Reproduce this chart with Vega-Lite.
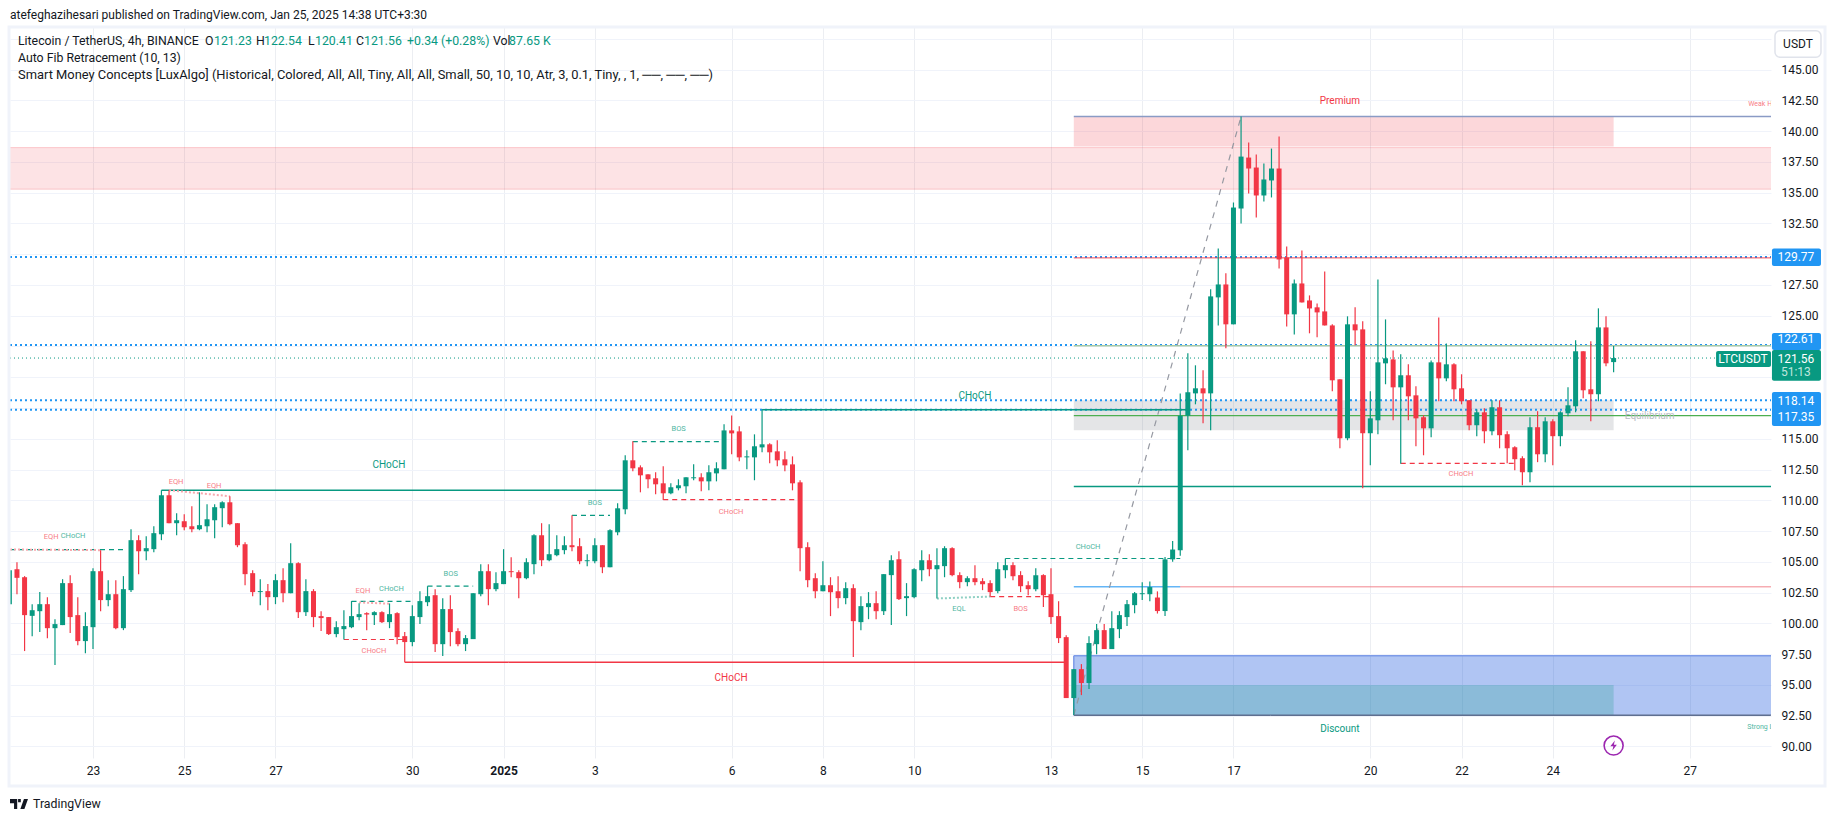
{"$schema":"https://vega.github.io/schema/vega-lite/v6.json","width":1761,"height":731,"autosize":{"type":"none"},"padding":{"left":10,"top":27,"right":64,"bottom":63},"background":"#ffffff","config":{"view":{"stroke":null},"font":"Roboto","axis":{"labelFont":"Roboto"}},
"datasets":{
"candles":[
{"t":"2024-12-21T04:00Z","o":101.56,"h":104.32,"l":101.56,"c":104.32},{"t":"2024-12-21T08:00Z","o":104.40,"h":104.97,"l":102.37,"c":103.70},{"t":"2024-12-21T12:00Z","o":103.75,"h":103.84,"l":97.75,"c":100.67},{"t":"2024-12-21T16:00Z","o":100.61,"h":101.56,"l":98.96,"c":101.07},{"t":"2024-12-21T20:00Z","o":100.99,"h":102.54,"l":99.29,"c":101.56},
{"t":"2024-12-22T00:00Z","o":101.56,"h":102.13,"l":98.80,"c":99.61},{"t":"2024-12-22T04:00Z","o":99.61,"h":100.34,"l":96.61,"c":99.94},{"t":"2024-12-22T08:00Z","o":99.86,"h":103.59,"l":99.86,"c":103.27},{"t":"2024-12-22T12:00Z","o":103.27,"h":103.92,"l":99.21,"c":100.51},{"t":"2024-12-22T16:00Z","o":100.67,"h":102.13,"l":98.23,"c":98.56},{"t":"2024-12-22T20:00Z","o":98.56,"h":100.91,"l":97.58,"c":99.78},
{"t":"2024-12-23T00:00Z","o":99.69,"h":104.48,"l":97.91,"c":104.24},{"t":"2024-12-23T04:00Z","o":104.24,"h":105.95,"l":100.99,"c":101.89},{"t":"2024-12-23T08:00Z","o":101.89,"h":103.51,"l":101.40,"c":102.37},{"t":"2024-12-23T12:00Z","o":102.37,"h":103.51,"l":99.53,"c":99.61},{"t":"2024-12-23T16:00Z","o":99.61,"h":103.84,"l":99.45,"c":102.78},{"t":"2024-12-23T20:00Z","o":102.70,"h":107.65,"l":102.54,"c":106.76},
{"t":"2024-12-24T00:00Z","o":106.76,"h":107.16,"l":104.00,"c":105.86},{"t":"2024-12-24T04:00Z","o":105.86,"h":107.08,"l":105.13,"c":106.11},{"t":"2024-12-24T08:00Z","o":106.03,"h":107.89,"l":105.78,"c":107.33},{"t":"2024-12-24T12:00Z","o":107.24,"h":110.82,"l":106.76,"c":110.41},{"t":"2024-12-24T16:00Z","o":110.41,"h":110.82,"l":108.14,"c":108.14},{"t":"2024-12-24T20:00Z","o":108.14,"h":108.95,"l":107.16,"c":108.38},
{"t":"2024-12-25T00:00Z","o":108.30,"h":108.87,"l":107.57,"c":107.81},{"t":"2024-12-25T04:00Z","o":107.89,"h":109.52,"l":107.41,"c":107.65},{"t":"2024-12-25T08:00Z","o":107.65,"h":110.65,"l":107.57,"c":107.98},{"t":"2024-12-25T12:00Z","o":107.89,"h":109.68,"l":107.41,"c":108.46},{"t":"2024-12-25T16:00Z","o":108.38,"h":109.68,"l":106.92,"c":109.44},{"t":"2024-12-25T20:00Z","o":109.36,"h":109.92,"l":107.81,"c":109.84},
{"t":"2024-12-26T00:00Z","o":109.84,"h":110.33,"l":107.98,"c":108.06},{"t":"2024-12-26T04:00Z","o":108.14,"h":108.14,"l":106.19,"c":106.35},{"t":"2024-12-26T08:00Z","o":106.43,"h":106.60,"l":103.10,"c":104.00},{"t":"2024-12-26T12:00Z","o":104.08,"h":104.32,"l":102.21,"c":102.54},{"t":"2024-12-26T16:00Z","o":102.54,"h":103.59,"l":101.48,"c":102.62},{"t":"2024-12-26T20:00Z","o":102.62,"h":103.19,"l":101.07,"c":102.13},
{"t":"2024-12-27T00:00Z","o":102.13,"h":104.00,"l":101.56,"c":103.51},{"t":"2024-12-27T04:00Z","o":103.51,"h":104.48,"l":101.72,"c":102.45},{"t":"2024-12-27T08:00Z","o":102.45,"h":106.51,"l":102.45,"c":104.89},{"t":"2024-12-27T12:00Z","o":104.89,"h":104.97,"l":100.43,"c":100.91},{"t":"2024-12-27T16:00Z","o":100.91,"h":103.59,"l":100.59,"c":102.62},{"t":"2024-12-27T20:00Z","o":102.62,"h":102.78,"l":99.69,"c":100.51},
{"t":"2024-12-28T00:00Z","o":100.59,"h":100.99,"l":99.37,"c":100.43},{"t":"2024-12-28T04:00Z","o":100.51,"h":100.51,"l":99.05,"c":99.13},{"t":"2024-12-28T08:00Z","o":99.13,"h":100.18,"l":98.88,"c":99.69},{"t":"2024-12-28T12:00Z","o":99.53,"h":101.07,"l":98.69,"c":99.78},{"t":"2024-12-28T16:00Z","o":99.69,"h":101.81,"l":99.61,"c":100.59},{"t":"2024-12-28T20:00Z","o":100.51,"h":101.64,"l":100.26,"c":100.75},
{"t":"2024-12-29T00:00Z","o":100.83,"h":100.91,"l":99.45,"c":100.72},{"t":"2024-12-29T04:00Z","o":100.67,"h":100.99,"l":99.86,"c":100.91},{"t":"2024-12-29T08:00Z","o":100.91,"h":100.99,"l":100.02,"c":100.10},{"t":"2024-12-29T12:00Z","o":100.10,"h":101.62,"l":99.61,"c":100.75},{"t":"2024-12-29T16:00Z","o":100.83,"h":100.91,"l":98.31,"c":98.88},{"t":"2024-12-29T20:00Z","o":98.96,"h":99.29,"l":96.85,"c":98.48},
{"t":"2024-12-30T00:00Z","o":98.48,"h":101.48,"l":98.15,"c":100.59},{"t":"2024-12-30T04:00Z","o":100.51,"h":102.62,"l":99.94,"c":101.81},{"t":"2024-12-30T08:00Z","o":101.72,"h":103.02,"l":101.40,"c":102.21},{"t":"2024-12-30T12:00Z","o":102.29,"h":102.78,"l":97.67,"c":98.31},{"t":"2024-12-30T16:00Z","o":98.31,"h":102.05,"l":97.34,"c":101.16},{"t":"2024-12-30T20:00Z","o":101.16,"h":102.29,"l":98.15,"c":99.29},
{"t":"2024-12-31T00:00Z","o":99.37,"h":99.61,"l":98.15,"c":98.31},{"t":"2024-12-31T04:00Z","o":98.31,"h":99.05,"l":97.75,"c":98.80},{"t":"2024-12-31T08:00Z","o":98.72,"h":102.45,"l":98.72,"c":102.45},{"t":"2024-12-31T12:00Z","o":102.37,"h":104.81,"l":102.21,"c":104.24},{"t":"2024-12-31T16:00Z","o":104.24,"h":104.81,"l":101.48,"c":102.78},{"t":"2024-12-31T20:00Z","o":102.78,"h":104.16,"l":102.62,"c":103.27},
{"t":"2025-01-01T00:00Z","o":103.19,"h":106.03,"l":103.19,"c":104.24},{"t":"2025-01-01T04:00Z","o":104.24,"h":105.38,"l":103.75,"c":104.16},{"t":"2025-01-01T08:00Z","o":104.16,"h":104.32,"l":102.05,"c":103.67},{"t":"2025-01-01T12:00Z","o":103.67,"h":105.30,"l":103.59,"c":104.97},{"t":"2025-01-01T16:00Z","o":104.81,"h":107.24,"l":104.00,"c":107.16},{"t":"2025-01-01T20:00Z","o":107.16,"h":108.14,"l":104.65,"c":105.13},
{"t":"2025-01-02T00:00Z","o":105.13,"h":108.06,"l":105.05,"c":105.62},{"t":"2025-01-02T04:00Z","o":105.54,"h":107.16,"l":105.46,"c":106.03},{"t":"2025-01-02T08:00Z","o":105.95,"h":107.08,"l":105.62,"c":106.35},{"t":"2025-01-02T12:00Z","o":106.35,"h":108.79,"l":105.86,"c":106.19},{"t":"2025-01-02T16:00Z","o":106.27,"h":106.92,"l":104.81,"c":105.05},{"t":"2025-01-02T20:00Z","o":105.05,"h":105.62,"l":104.64,"c":105.13},
{"t":"2025-01-03T00:00Z","o":105.05,"h":106.92,"l":104.89,"c":106.35},{"t":"2025-01-03T04:00Z","o":106.35,"h":106.35,"l":104.08,"c":104.56},{"t":"2025-01-03T08:00Z","o":104.56,"h":107.65,"l":104.56,"c":107.57},{"t":"2025-01-03T12:00Z","o":107.40,"h":109.76,"l":107.16,"c":109.35},{"t":"2025-01-03T16:00Z","o":109.27,"h":113.66,"l":108.87,"c":113.25},{"t":"2025-01-03T20:00Z","o":113.25,"h":114.79,"l":112.36,"c":112.60},
{"t":"2025-01-04T00:00Z","o":112.68,"h":112.84,"l":110.65,"c":112.03},{"t":"2025-01-04T04:00Z","o":112.11,"h":112.11,"l":110.98,"c":111.71},{"t":"2025-01-04T08:00Z","o":111.79,"h":112.28,"l":110.49,"c":111.30},{"t":"2025-01-04T12:00Z","o":111.38,"h":112.76,"l":110.03,"c":110.57},{"t":"2025-01-04T16:00Z","o":110.57,"h":111.38,"l":110.49,"c":111.06},{"t":"2025-01-04T20:00Z","o":110.98,"h":111.71,"l":110.81,"c":111.22},
{"t":"2025-01-05T00:00Z","o":111.14,"h":111.87,"l":110.57,"c":111.87},{"t":"2025-01-05T04:00Z","o":111.79,"h":112.92,"l":111.63,"c":111.87},{"t":"2025-01-05T08:00Z","o":111.87,"h":112.19,"l":110.73,"c":111.54},{"t":"2025-01-05T12:00Z","o":111.54,"h":112.84,"l":110.81,"c":112.28},{"t":"2025-01-05T16:00Z","o":112.19,"h":113.09,"l":111.54,"c":112.60},{"t":"2025-01-05T20:00Z","o":112.52,"h":116.17,"l":112.52,"c":115.68},
{"t":"2025-01-06T00:00Z","o":115.68,"h":116.90,"l":113.74,"c":115.44},{"t":"2025-01-06T04:00Z","o":115.60,"h":116.01,"l":113.17,"c":113.49},{"t":"2025-01-06T08:00Z","o":113.49,"h":114.06,"l":112.52,"c":113.57},{"t":"2025-01-06T12:00Z","o":113.49,"h":115.36,"l":111.63,"c":114.39},{"t":"2025-01-06T16:00Z","o":114.30,"h":117.36,"l":113.90,"c":114.55},{"t":"2025-01-06T20:00Z","o":114.55,"h":114.63,"l":113.01,"c":113.90},
{"t":"2025-01-07T00:00Z","o":113.98,"h":114.87,"l":112.76,"c":113.25},{"t":"2025-01-07T04:00Z","o":113.33,"h":113.98,"l":112.36,"c":112.84},{"t":"2025-01-07T08:00Z","o":112.92,"h":113.57,"l":110.81,"c":111.38},{"t":"2025-01-07T12:00Z","o":111.46,"h":111.63,"l":104.24,"c":106.11},{"t":"2025-01-07T16:00Z","o":106.19,"h":106.59,"l":102.94,"c":103.51},{"t":"2025-01-07T20:00Z","o":103.67,"h":104.08,"l":102.05,"c":102.61},
{"t":"2025-01-08T00:00Z","o":102.61,"h":105.05,"l":102.61,"c":103.10},{"t":"2025-01-08T04:00Z","o":103.10,"h":103.75,"l":100.59,"c":102.53},{"t":"2025-01-08T08:00Z","o":102.61,"h":103.83,"l":101.23,"c":102.05},{"t":"2025-01-08T12:00Z","o":102.05,"h":103.35,"l":101.56,"c":102.86},{"t":"2025-01-08T16:00Z","o":102.86,"h":103.18,"l":97.26,"c":100.18},{"t":"2025-01-08T20:00Z","o":100.10,"h":102.21,"l":99.45,"c":101.40},
{"t":"2025-01-09T00:00Z","o":101.32,"h":102.54,"l":100.34,"c":101.64},{"t":"2025-01-09T04:00Z","o":101.64,"h":102.62,"l":100.34,"c":100.99},{"t":"2025-01-09T08:00Z","o":100.99,"h":104.00,"l":100.67,"c":104.00},{"t":"2025-01-09T12:00Z","o":103.92,"h":105.54,"l":99.86,"c":105.13},{"t":"2025-01-09T16:00Z","o":105.21,"h":105.86,"l":101.89,"c":101.97},{"t":"2025-01-09T20:00Z","o":102.05,"h":103.27,"l":100.59,"c":102.21},
{"t":"2025-01-10T00:00Z","o":102.13,"h":104.48,"l":102.05,"c":104.40},{"t":"2025-01-10T04:00Z","o":104.32,"h":105.94,"l":103.43,"c":105.13},{"t":"2025-01-10T08:00Z","o":105.13,"h":105.62,"l":103.83,"c":104.40},{"t":"2025-01-10T12:00Z","o":104.40,"h":106.11,"l":102.02,"c":104.73},{"t":"2025-01-10T16:00Z","o":104.65,"h":106.27,"l":103.75,"c":106.11},{"t":"2025-01-10T20:00Z","o":106.11,"h":106.19,"l":103.83,"c":103.92},
{"t":"2025-01-11T00:00Z","o":103.92,"h":104.16,"l":102.86,"c":103.35},{"t":"2025-01-11T04:00Z","o":103.35,"h":103.83,"l":103.02,"c":103.67},{"t":"2025-01-11T08:00Z","o":103.67,"h":104.73,"l":103.10,"c":103.35},{"t":"2025-01-11T12:00Z","o":103.43,"h":103.67,"l":102.70,"c":103.18},{"t":"2025-01-11T16:00Z","o":103.27,"h":103.51,"l":102.18,"c":102.54},{"t":"2025-01-11T20:00Z","o":102.62,"h":104.97,"l":102.45,"c":104.40},
{"t":"2025-01-12T00:00Z","o":104.32,"h":105.27,"l":103.67,"c":104.73},{"t":"2025-01-12T04:00Z","o":104.73,"h":104.97,"l":103.51,"c":103.83},{"t":"2025-01-12T08:00Z","o":103.92,"h":104.24,"l":102.54,"c":103.02},{"t":"2025-01-12T12:00Z","o":103.10,"h":103.43,"l":102.29,"c":102.78},{"t":"2025-01-12T16:00Z","o":102.78,"h":104.48,"l":102.62,"c":103.92},{"t":"2025-01-12T20:00Z","o":103.92,"h":104.00,"l":101.32,"c":102.29},
{"t":"2025-01-13T00:00Z","o":102.37,"h":104.48,"l":99.94,"c":100.51},{"t":"2025-01-13T04:00Z","o":100.59,"h":101.80,"l":98.40,"c":98.80},{"t":"2025-01-13T08:00Z","o":98.88,"h":99.04,"l":93.93,"c":93.93},{"t":"2025-01-13T12:00Z","o":93.93,"h":96.28,"l":92.55,"c":96.28},{"t":"2025-01-13T16:00Z","o":96.28,"h":96.69,"l":94.17,"c":95.15},{"t":"2025-01-13T20:00Z","o":95.15,"h":98.96,"l":94.66,"c":98.40},
{"t":"2025-01-14T00:00Z","o":98.31,"h":99.94,"l":97.50,"c":99.45},{"t":"2025-01-14T04:00Z","o":99.45,"h":99.94,"l":97.91,"c":97.91},{"t":"2025-01-14T08:00Z","o":97.91,"h":100.99,"l":97.91,"c":99.61},{"t":"2025-01-14T12:00Z","o":99.53,"h":100.99,"l":98.80,"c":100.67},{"t":"2025-01-14T16:00Z","o":100.51,"h":101.89,"l":99.78,"c":101.56},{"t":"2025-01-14T20:00Z","o":101.48,"h":102.54,"l":100.83,"c":102.45},
{"t":"2025-01-15T00:00Z","o":102.37,"h":103.35,"l":101.89,"c":102.45},{"t":"2025-01-15T04:00Z","o":102.37,"h":103.40,"l":101.80,"c":102.95},{"t":"2025-01-15T08:00Z","o":102.10,"h":102.60,"l":100.80,"c":101.00},{"t":"2025-01-15T12:00Z","o":101.00,"h":105.40,"l":100.60,"c":105.20},{"t":"2025-01-15T16:00Z","o":105.20,"h":106.70,"l":105.00,"c":106.00},{"t":"2025-01-15T20:00Z","o":105.95,"h":118.67,"l":105.50,"c":116.88},
{"t":"2025-01-16T00:00Z","o":116.88,"h":121.94,"l":114.07,"c":118.78},{"t":"2025-01-16T04:00Z","o":118.69,"h":120.97,"l":117.80,"c":119.10},{"t":"2025-01-16T08:00Z","o":119.10,"h":120.56,"l":116.26,"c":118.69},{"t":"2025-01-16T12:00Z","o":118.69,"h":127.14,"l":115.69,"c":126.57},{"t":"2025-01-16T16:00Z","o":126.49,"h":130.47,"l":124.21,"c":127.54},{"t":"2025-01-16T20:00Z","o":127.54,"h":128.44,"l":122.35,"c":124.30},
{"t":"2025-01-17T00:00Z","o":124.30,"h":134.20,"l":124.30,"c":133.79},{"t":"2025-01-17T04:00Z","o":133.71,"h":141.18,"l":132.50,"c":137.93},{"t":"2025-01-17T08:00Z","o":137.85,"h":139.07,"l":134.93,"c":136.96},{"t":"2025-01-17T12:00Z","o":137.04,"h":138.10,"l":132.98,"c":134.77},{"t":"2025-01-17T16:00Z","o":134.77,"h":137.37,"l":134.28,"c":136.07},{"t":"2025-01-17T20:00Z","o":135.99,"h":138.58,"l":134.61,"c":136.96},
{"t":"2025-01-18T00:00Z","o":136.96,"h":139.56,"l":128.84,"c":129.57},{"t":"2025-01-18T04:00Z","o":129.73,"h":130.63,"l":124.13,"c":125.11},{"t":"2025-01-18T08:00Z","o":125.11,"h":127.95,"l":123.48,"c":127.62},{"t":"2025-01-18T12:00Z","o":127.62,"h":130.30,"l":126.08,"c":126.08},{"t":"2025-01-18T16:00Z","o":126.24,"h":126.65,"l":123.57,"c":125.59},{"t":"2025-01-18T20:00Z","o":125.68,"h":126.00,"l":123.24,"c":125.27},
{"t":"2025-01-19T00:00Z","o":125.35,"h":128.60,"l":124.21,"c":124.21},{"t":"2025-01-19T04:00Z","o":124.21,"h":124.30,"l":118.86,"c":119.75},{"t":"2025-01-19T08:00Z","o":119.83,"h":119.83,"l":114.23,"c":115.04},{"t":"2025-01-19T12:00Z","o":115.04,"h":124.95,"l":114.88,"c":124.30},{"t":"2025-01-19T16:00Z","o":124.30,"h":125.68,"l":122.59,"c":123.81},{"t":"2025-01-19T20:00Z","o":123.89,"h":124.54,"l":110.98,"c":115.45},
{"t":"2025-01-20T00:00Z","o":115.45,"h":118.86,"l":112.85,"c":116.66},{"t":"2025-01-20T04:00Z","o":116.50,"h":127.95,"l":115.37,"c":121.21},{"t":"2025-01-20T08:00Z","o":121.13,"h":124.70,"l":119.43,"c":121.54},{"t":"2025-01-20T12:00Z","o":121.45,"h":122.18,"l":116.50,"c":119.18},{"t":"2025-01-20T16:00Z","o":119.18,"h":121.86,"l":112.98,"c":120.16},{"t":"2025-01-20T20:00Z","o":120.16,"h":121.05,"l":116.50,"c":118.45},
{"t":"2025-01-21T00:00Z","o":118.53,"h":119.26,"l":114.39,"c":116.66},{"t":"2025-01-21T04:00Z","o":116.75,"h":116.91,"l":113.66,"c":115.85},{"t":"2025-01-21T08:00Z","o":115.85,"h":121.37,"l":115.12,"c":121.21},{"t":"2025-01-21T12:00Z","o":121.21,"h":124.86,"l":118.05,"c":119.91},{"t":"2025-01-21T16:00Z","o":119.91,"h":122.75,"l":119.67,"c":121.05},{"t":"2025-01-21T20:00Z","o":121.05,"h":121.13,"l":118.05,"c":119.02},
{"t":"2025-01-22T00:00Z","o":119.10,"h":120.24,"l":117.80,"c":118.05},{"t":"2025-01-22T04:00Z","o":118.13,"h":118.13,"l":115.69,"c":116.10},{"t":"2025-01-22T08:00Z","o":116.10,"h":117.40,"l":115.20,"c":117.15},{"t":"2025-01-22T12:00Z","o":117.15,"h":117.48,"l":114.64,"c":115.61},{"t":"2025-01-22T16:00Z","o":115.61,"h":118.13,"l":115.29,"c":117.56},{"t":"2025-01-22T20:00Z","o":117.56,"h":118.13,"l":114.23,"c":115.29},
{"t":"2025-01-23T00:00Z","o":115.37,"h":115.61,"l":113.01,"c":114.23},{"t":"2025-01-23T04:00Z","o":114.31,"h":114.39,"l":112.45,"c":113.34},{"t":"2025-01-23T08:00Z","o":113.42,"h":113.58,"l":111.23,"c":112.28},{"t":"2025-01-23T12:00Z","o":112.28,"h":116.75,"l":111.47,"c":115.94},{"t":"2025-01-23T16:00Z","o":115.94,"h":117.24,"l":113.10,"c":113.74},{"t":"2025-01-23T20:00Z","o":113.74,"h":116.75,"l":113.10,"c":116.42},
{"t":"2025-01-24T00:00Z","o":116.42,"h":116.59,"l":112.85,"c":115.21},{"t":"2025-01-24T04:00Z","o":115.21,"h":117.24,"l":114.39,"c":117.15},{"t":"2025-01-24T08:00Z","o":117.07,"h":119.18,"l":116.83,"c":117.72},{"t":"2025-01-24T12:00Z","o":117.64,"h":123.00,"l":117.15,"c":122.11},{"t":"2025-01-24T16:00Z","o":122.11,"h":122.11,"l":118.29,"c":118.94},{"t":"2025-01-24T20:00Z","o":119.02,"h":122.92,"l":116.42,"c":118.62},
{"t":"2025-01-25T00:00Z","o":118.62,"h":125.60,"l":118.05,"c":124.05},{"t":"2025-01-25T04:00Z","o":124.05,"h":124.95,"l":120.89,"c":121.13},{"t":"2025-01-25T08:00Z","o":121.23,"h":122.54,"l":120.41,"c":121.56}],
"zones":[
{"zone":"Supply","t1":"2024-12-21T04:20Z","t2":"2025-01-28T18:48Z","p1":138.66,"p2":135.28},
{"zone":"Premium","t1":"2025-01-13T12:00Z","t2":"2025-01-25T08:00Z","p1":141.18,"p2":138.74},
{"zone":"Equilibrium","t1":"2025-01-13T12:00Z","t2":"2025-01-25T08:00Z","p1":118.13,"p2":115.69},
{"zone":"Discount","t1":"2025-01-13T12:00Z","t2":"2025-01-28T18:48Z","p1":97.36,"p2":92.53},
{"zone":"Demand","t1":"2025-01-13T12:00Z","t2":"2025-01-25T08:00Z","p1":95.0,"p2":92.53}],
"lines":[
{"kind":"supply_edge","t1":"2024-12-21T04:20Z","t2":"2025-01-28T18:48Z","p1":138.66,"p2":138.66},
{"kind":"supply_edge","t1":"2024-12-21T04:20Z","t2":"2025-01-28T18:48Z","p1":135.28,"p2":135.28},
{"kind":"premium_edge","t1":"2025-01-13T12:00Z","t2":"2025-01-28T18:48Z","p1":141.18,"p2":141.18},
{"kind":"level_dot","t1":"2024-12-21T04:20Z","t2":"2025-01-28T18:48Z","p1":129.77,"p2":129.77},
{"kind":"level_dot","t1":"2024-12-21T04:20Z","t2":"2025-01-28T18:48Z","p1":122.61,"p2":122.61},
{"kind":"level_dot","t1":"2024-12-21T04:20Z","t2":"2025-01-28T18:48Z","p1":118.14,"p2":118.14},
{"kind":"level_dot","t1":"2024-12-21T04:20Z","t2":"2025-01-28T18:48Z","p1":117.35,"p2":117.35},
{"kind":"last_price","t1":"2024-12-21T04:20Z","t2":"2025-01-28T18:48Z","p1":121.56,"p2":121.56},
{"kind":"premium_level","t1":"2025-01-13T12:00Z","t2":"2025-01-28T18:48Z","p1":129.7,"p2":129.7},
{"kind":"fib_level","t1":"2025-01-13T12:00Z","t2":"2025-01-28T18:48Z","p1":122.55,"p2":122.55},
{"kind":"equilibrium","t1":"2025-01-13T12:00Z","t2":"2025-01-28T18:48Z","p1":116.88,"p2":116.88},
{"kind":"choch_up","t1":"2025-01-13T12:00Z","t2":"2025-01-28T18:48Z","p1":111.12,"p2":111.12},
{"kind":"mid_blue","t1":"2025-01-13T12:00Z","t2":"2025-01-15T20:00Z","p1":102.97,"p2":102.97},
{"kind":"mid_red","t1":"2025-01-15T20:00Z","t2":"2025-01-28T18:48Z","p1":102.97,"p2":102.97},
{"kind":"discount_edge","t1":"2025-01-13T12:00Z","t2":"2025-01-28T18:48Z","p1":97.36,"p2":97.36},
{"kind":"discount_edge","t1":"2025-01-13T12:00Z","t2":"2025-01-13T12:00Z","p1":97.36,"p2":92.53},
{"kind":"discount_base","t1":"2025-01-13T12:00Z","t2":"2025-01-28T18:48Z","p1":92.53,"p2":92.53},
{"kind":"fib_trend","t1":"2025-01-13T12:00Z","t2":"2025-01-17T04:00Z","p1":92.55,"p2":141.18},
{"kind":"choch_up","t1":"2024-12-24T12:00Z","t2":"2025-01-03T16:00Z","p1":110.82,"p2":110.82},
{"kind":"choch_up","t1":"2025-01-06T16:00Z","t2":"2025-01-16T00:00Z","p1":117.36,"p2":117.36},
{"kind":"choch_down","t1":"2024-12-29T20:00Z","t2":"2025-01-13T08:00Z","p1":96.85,"p2":96.85},
{"kind":"bos_up","t1":"2024-12-21T04:20Z","t2":"2024-12-23T16:00Z","p1":106.0,"p2":106.0},
{"kind":"bos_up","t1":"2024-12-28T16:00Z","t2":"2024-12-30T00:00Z","p1":101.78,"p2":101.78},
{"kind":"bos_up","t1":"2024-12-30T08:00Z","t2":"2024-12-31T08:00Z","p1":103.02,"p2":103.02},
{"kind":"bos_up","t1":"2025-01-02T12:00Z","t2":"2025-01-03T08:00Z","p1":108.77,"p2":108.77},
{"kind":"bos_up","t1":"2025-01-03T20:00Z","t2":"2025-01-05T20:00Z","p1":114.77,"p2":114.77},
{"kind":"bos_up","t1":"2025-01-12T00:00Z","t2":"2025-01-15T20:00Z","p1":105.27,"p2":105.27},
{"kind":"bos_down","t1":"2024-12-28T12:00Z","t2":"2024-12-29T20:00Z","p1":98.69,"p2":98.69},
{"kind":"bos_down","t1":"2025-01-04T12:00Z","t2":"2025-01-07T12:00Z","p1":110.06,"p2":110.06},
{"kind":"bos_down","t1":"2025-01-11T16:00Z","t2":"2025-01-13T00:00Z","p1":102.18,"p2":102.18},
{"kind":"bos_down","t1":"2025-01-20T16:00Z","t2":"2025-01-23T04:00Z","p1":113.0,"p2":113.0},
{"kind":"eq_high","t1":"2024-12-21T04:20Z","t2":"2024-12-23T04:00Z","p1":106.0,"p2":105.95},
{"kind":"eq_high","t1":"2024-12-24T16:00Z","t2":"2024-12-26T00:00Z","p1":110.82,"p2":110.33},
{"kind":"eq_high","t1":"2024-12-28T20:00Z","t2":"2024-12-29T12:00Z","p1":101.7,"p2":101.6},
{"kind":"eq_low","t1":"2025-01-10T12:00Z","t2":"2025-01-11T16:00Z","p1":102.02,"p2":102.18}],
"tags":[
{"tag":"level","t1":"2025-01-28T19:18Z","t2":"2025-01-29T21:06Z","p1":130.46,"p2":129.04},
{"tag":"level","t1":"2025-01-28T19:18Z","t2":"2025-01-29T21:06Z","p1":123.59,"p2":122.22},
{"tag":"level","t1":"2025-01-28T19:18Z","t2":"2025-01-29T21:06Z","p1":118.80,"p2":116.04},
{"tag":"price","t1":"2025-01-28T19:18Z","t2":"2025-01-29T21:06Z","p1":122.22,"p2":119.72},
{"tag":"price","t1":"2025-01-27T13:54Z","t2":"2025-01-28T18:48Z","p1":122.13,"p2":120.83}],
"button":[{"t1":"2025-01-28T20:54Z","t2":"2025-01-29T21:06Z","p1":148.16,"p2":146.0}],
"frame":[{"t1":"2024-12-21T03:49Z","t2":"2025-01-29T23:13Z","p1":148.46,"p2":86.78}],
"bolt":[{"t":"2025-01-25T08:00Z","p":90.07}],
"logo":[{"t":"2024-12-21T09:04Z","p":85.32}],
"textsLeft":[
{"t":"2024-12-21T04:20Z","p":149.44,"label":"atefeghazihesari published on TradingView.com, Jan 25, 2025 14:38 UTC+3:30","tone":"dark","tier":"header"},
{"t":"2024-12-21T08:32Z","p":147.32,"label":"Litecoin / TetherUS, 4h, BINANCE","tone":"dark","tier":"legend"},
{"t":"2024-12-25T10:55Z","p":147.32,"label":"O","tone":"dark","tier":"legend"},
{"t":"2024-12-25T15:40Z","p":147.32,"label":"121.23","tone":"green","tier":"legend"},
{"t":"2024-12-26T13:45Z","p":147.32,"label":"H","tone":"dark","tier":"legend"},
{"t":"2024-12-26T17:58Z","p":147.32,"label":"122.54","tone":"green","tier":"legend"},
{"t":"2024-12-27T17:06Z","p":147.32,"label":"L","tone":"dark","tier":"legend"},
{"t":"2024-12-27T20:48Z","p":147.32,"label":"120.41","tone":"green","tier":"legend"},
{"t":"2024-12-28T18:24Z","p":147.32,"label":"C","tone":"dark","tier":"legend"},
{"t":"2024-12-28T22:36Z","p":147.32,"label":"121.56","tone":"green","tier":"legend"},
{"t":"2024-12-29T21:12Z","p":147.32,"label":"+0.34 (+0.28%)","tone":"green","tier":"legend"},
{"t":"2024-12-31T18:24Z","p":147.32,"label":"Vol","tone":"dark","tier":"legend"},
{"t":"2025-01-01T02:54Z","p":147.32,"label":"87.65 K","tone":"green","tier":"legend"},
{"t":"2024-12-21T08:32Z","p":145.98,"label":"Auto Fib Retracement (10, 13)","tone":"dark","tier":"legend"},
{"t":"2024-12-21T08:32Z","p":144.56,"label":"Smart Money Concepts [LuxAlgo] (Historical, Colored, All, All, Tiny, All, All, Small, 50, 10, 10, Atr, 3, 0.1, Tiny, , 1, ──, ──, ──)","tone":"dark","tier":"long"},
{"t":"2024-12-21T16:26Z","p":85.32,"label":"TradingView","tone":"dark","tier":"legend"}],
"textsCenter":[
{"t":"2024-12-29T11:42Z","p":112.9,"label":"CHoCH","tone":"green","tier":"big"},
{"t":"2025-01-11T08:00Z","p":118.5,"label":"CHoCH","tone":"green","tier":"big"},
{"t":"2025-01-05T23:42Z","p":95.6,"label":"CHoCH","tone":"red","tier":"big"},
{"t":"2025-01-19T08:00Z","p":142.48,"label":"Premium","tone":"red","tier":"big"},
{"t":"2025-01-19T08:00Z","p":91.4,"label":"Discount","tone":"green","tier":"big"},
{"t":"2025-01-26T03:00Z","p":116.85,"label":"Equilibrium","tone":"grey","tier":"big"},
{"t":"2024-12-22T02:00Z","p":107.0,"label":"EQH","tone":"softred","tier":"small"},
{"t":"2024-12-22T13:30Z","p":107.1,"label":"CHoCH","tone":"softgreen","tier":"small"},
{"t":"2024-12-24T19:42Z","p":111.5,"label":"EQH","tone":"softred","tier":"small"},
{"t":"2024-12-25T15:42Z","p":111.2,"label":"EQH","tone":"softred","tier":"small"},
{"t":"2024-12-28T22:00Z","p":102.65,"label":"EQH","tone":"softred","tier":"small"},
{"t":"2024-12-29T13:00Z","p":102.8,"label":"CHoCH","tone":"softgreen","tier":"small"},
{"t":"2024-12-29T03:48Z","p":97.72,"label":"CHoCH","tone":"softred","tier":"small"},
{"t":"2024-12-30T20:12Z","p":104.05,"label":"BOS","tone":"softgreen","tier":"small"},
{"t":"2025-01-03T00:00Z","p":109.75,"label":"BOS","tone":"softgreen","tier":"small"},
{"t":"2025-01-04T20:06Z","p":115.8,"label":"BOS","tone":"softgreen","tier":"small"},
{"t":"2025-01-05T23:42Z","p":109.05,"label":"CHoCH","tone":"softred","tier":"small"},
{"t":"2025-01-10T23:36Z","p":101.2,"label":"EQL","tone":"softgreen","tier":"small"},
{"t":"2025-01-12T08:00Z","p":101.2,"label":"BOS","tone":"softred","tier":"small"},
{"t":"2025-01-13T19:30Z","p":106.2,"label":"CHoCH","tone":"softgreen","tier":"small"},
{"t":"2025-01-21T23:42Z","p":112.1,"label":"CHoCH","tone":"softred","tier":"small"},
{"t":"2025-01-29T07:54Z","p":129.75,"label":"129.77","tone":"white","tier":"ui"},
{"t":"2025-01-29T07:54Z","p":123.08,"label":"122.61","tone":"white","tier":"ui"},
{"t":"2025-01-29T07:54Z","p":121.5,"label":"121.56","tone":"white","tier":"ui"},
{"t":"2025-01-29T07:54Z","p":120.4,"label":"51:13","tone":"pale","tier":"ui"},
{"t":"2025-01-29T07:54Z","p":118.09,"label":"118.14","tone":"white","tier":"ui"},
{"t":"2025-01-29T07:54Z","p":116.74,"label":"117.35","tone":"white","tier":"ui"},
{"t":"2025-01-28T04:06Z","p":121.5,"label":"LTCUSDT","tone":"white","tier":"ui"},
{"t":"2025-01-29T09:00Z","p":147.1,"label":"USDT","tone":"dark","tier":"ui"}],
"textsClipped":[
{"t":"2025-01-28T15:36Z","p":142.2,"label":"Weak High","tone":"softred"},
{"t":"2025-01-28T15:36Z","p":91.6,"label":"Strong Low","tone":"softgreen"}]
},
"layer":[
{"data":{"name":"zones"},"mark":{"type":"rect"},"encoding":{
"x":{"field":"t1","type":"temporal","title":null,"scale":{"type":"utc","padding":0,"domain":[{"year":2024,"month":12,"date":21,"hours":4,"minutes":20,"utc":true},{"year":2025,"month":1,"date":28,"hours":18,"minutes":48,"utc":true}]},"axis":{"orient":"bottom","domain":false,"ticks":false,"tickSize":0,"grid":true,"gridColor":"#eceef2","gridWidth":1,"labelFontSize":12,"labelColor":"#131722","labelPadding":7,"labelOverlap":false,"labelFlush":false,"tickCount":40,"values":[{"year":2024,"month":12,"date":23,"utc":true},{"year":2024,"month":12,"date":25,"utc":true},{"year":2024,"month":12,"date":27,"utc":true},{"year":2024,"month":12,"date":30,"utc":true},{"year":2025,"month":1,"date":1,"utc":true},{"year":2025,"month":1,"date":3,"utc":true},{"year":2025,"month":1,"date":6,"utc":true},{"year":2025,"month":1,"date":8,"utc":true},{"year":2025,"month":1,"date":10,"utc":true},{"year":2025,"month":1,"date":13,"utc":true},{"year":2025,"month":1,"date":15,"utc":true},{"year":2025,"month":1,"date":17,"utc":true},{"year":2025,"month":1,"date":20,"utc":true},{"year":2025,"month":1,"date":22,"utc":true},{"year":2025,"month":1,"date":24,"utc":true},{"year":2025,"month":1,"date":27,"utc":true}],"labelExpr":"utcdate(datum.value)==1 ? '2025' : utcFormat(datum.value,'%-d')","labelFontWeight":{"condition":{"test":"utcdate(datum.value)==1","value":"bold"},"value":"normal"}}},
"x2":{"field":"t2"},
"y":{"field":"p1","type":"quantitative","title":null,"scale":{"domain":[89.06,148.46],"nice":false,"zero":false},"axis":{"orient":"right","domain":false,"ticks":false,"tickSize":0,"grid":true,"gridColor":"#f0f3fa","gridWidth":1,"labelFontSize":12,"labelColor":"#131722","labelPadding":10,"labelOverlap":false,"labelFlush":false,"tickCount":40,"labelExpr":"indexof([147.5,130,122.5,120,117.5],datum.value)>=0 ? '' : format(datum.value,'.2f')","values":[90,92.5,95,97.5,100,102.5,105,107.5,110,112.5,115,117.5,120,122.5,125,127.5,130,132.5,135,137.5,140,142.5,145,147.5]}},
"y2":{"field":"p2"},
"color":{"field":"zone","type":"nominal","legend":null,"scale":{"domain":["Supply","Premium","Equilibrium","Discount","Demand"],"range":["rgba(242,54,69,0.14)","rgba(242,54,69,0.2)","rgba(120,123,134,0.2)","rgba(30,90,220,0.35)","rgba(8,153,129,0.22)"]}}}},
{"data":{"name":"lines"},"mark":{"type":"rule","clip":true},"encoding":{
"x":{"field":"t1","type":"temporal","title":null,"scale":{"type":"utc","padding":0,"domain":[{"year":2024,"month":12,"date":21,"hours":4,"minutes":20,"utc":true},{"year":2025,"month":1,"date":28,"hours":18,"minutes":48,"utc":true}]}},
"x2":{"field":"t2"},
"y":{"field":"p1","type":"quantitative","title":null,"scale":{"domain":[89.06,148.46],"nice":false,"zero":false}},
"y2":{"field":"p2"},
"color":{"field":"kind","type":"nominal","legend":null,"scale":{"domain":["supply_edge","premium_edge","level_dot","last_price","premium_level","fib_level","equilibrium","choch_up","choch_down","mid_blue","mid_red","discount_edge","discount_base","fib_trend","bos_up","bos_down","eq_high","eq_low"],"range":["rgba(242,54,69,0.22)","#8a9bc5","#2196f3","#089981","#f23645","#a5c8a5","#4caf50","#089981","#f23645","#64b5f6","#f0757f","#7d9be8","#5f6f8f","#9598a1","#089981","#f23645","#f7a8ae","#8fd0c4"]}},
"strokeDash":{"field":"kind","type":"nominal","legend":null,"scale":{"domain":["supply_edge","premium_edge","level_dot","last_price","premium_level","fib_level","equilibrium","choch_up","choch_down","mid_blue","mid_red","discount_edge","discount_base","fib_trend","bos_up","bos_down","eq_high","eq_low"],"range":[[1,0],[1,0],[2,3],[1,3],[1,0],[1,0],[1,0],[1,0],[1,0],[1,0],[1,0],[1,0],[1,0],[6,6],[5,4],[5,4],[2,2],[2,2]]}},
"strokeWidth":{"field":"kind","type":"ordinal","legend":null,"scale":{"type":"ordinal","domain":["supply_edge","premium_edge","level_dot","last_price","premium_level","fib_level","equilibrium","choch_up","choch_down","mid_blue","mid_red","discount_edge","discount_base","fib_trend","bos_up","bos_down","eq_high","eq_low"],"range":[1,1.5,2,1,1,1.5,1.2,1.5,1.5,1.5,1,1.5,1.5,1.2,1.2,1.2,2,2]}}}},
{"data":{"name":"candles"},"mark":{"type":"rule","clip":true,"strokeWidth":1.2},"encoding":{
"x":{"field":"t","type":"temporal","title":null,"scale":{"type":"utc","padding":0,"domain":[{"year":2024,"month":12,"date":21,"hours":4,"minutes":20,"utc":true},{"year":2025,"month":1,"date":28,"hours":18,"minutes":48,"utc":true}]}},
"y":{"field":"h","type":"quantitative","title":null,"scale":{"domain":[89.06,148.46],"nice":false,"zero":false}},
"y2":{"field":"l"},
"color":{"condition":{"test":"datum.c>=datum.o","value":"#089981"},"value":"#f23645"}}},
{"data":{"name":"candles"},"mark":{"type":"bar","clip":true,"size":5},"encoding":{
"x":{"field":"t","type":"temporal","title":null,"scale":{"type":"utc","padding":0,"domain":[{"year":2024,"month":12,"date":21,"hours":4,"minutes":20,"utc":true},{"year":2025,"month":1,"date":28,"hours":18,"minutes":48,"utc":true}]}},
"y":{"field":"o","type":"quantitative","title":null,"scale":{"domain":[89.06,148.46],"nice":false,"zero":false}},
"y2":{"field":"c"},
"color":{"condition":{"test":"datum.c>=datum.o","value":"#089981"},"value":"#f23645"}}},
{"data":{"name":"frame"},"mark":{"type":"rect","fill":null,"stroke":"#f0f3fa","strokeWidth":3},"encoding":{
"x":{"field":"t1","type":"temporal","title":null,"scale":{"type":"utc","padding":0,"domain":[{"year":2024,"month":12,"date":21,"hours":4,"minutes":20,"utc":true},{"year":2025,"month":1,"date":28,"hours":18,"minutes":48,"utc":true}]}},
"x2":{"field":"t2"},
"y":{"field":"p1","type":"quantitative","title":null,"scale":{"domain":[89.06,148.46],"nice":false,"zero":false}},
"y2":{"field":"p2"}}},
{"data":{"name":"tags"},"mark":{"type":"rect","cornerRadius":2},"encoding":{
"x":{"field":"t1","type":"temporal","title":null,"scale":{"type":"utc","padding":0,"domain":[{"year":2024,"month":12,"date":21,"hours":4,"minutes":20,"utc":true},{"year":2025,"month":1,"date":28,"hours":18,"minutes":48,"utc":true}]}},
"x2":{"field":"t2"},
"y":{"field":"p1","type":"quantitative","title":null,"scale":{"domain":[89.06,148.46],"nice":false,"zero":false}},
"y2":{"field":"p2"},
"color":{"field":"tag","type":"nominal","legend":null,"scale":{"domain":["level","price"],"range":["#2196f3","#089981"]}}}},
{"data":{"name":"button"},"mark":{"type":"rect","fill":"#ffffff","stroke":"#e0e3eb","strokeWidth":1.5,"cornerRadius":5},"encoding":{
"x":{"field":"t1","type":"temporal","title":null,"scale":{"type":"utc","padding":0,"domain":[{"year":2024,"month":12,"date":21,"hours":4,"minutes":20,"utc":true},{"year":2025,"month":1,"date":28,"hours":18,"minutes":48,"utc":true}]}},
"x2":{"field":"t2"},
"y":{"field":"p1","type":"quantitative","title":null,"scale":{"domain":[89.06,148.46],"nice":false,"zero":false}},
"y2":{"field":"p2"}}},
{"data":{"name":"bolt"},"mark":{"type":"point","shape":"circle","size":361,"filled":false,"stroke":"#9c27b0","strokeWidth":1.6,"opacity":1},"encoding":{
"x":{"field":"t","type":"temporal","title":null,"scale":{"type":"utc","padding":0,"domain":[{"year":2024,"month":12,"date":21,"hours":4,"minutes":20,"utc":true},{"year":2025,"month":1,"date":28,"hours":18,"minutes":48,"utc":true}]}},
"y":{"field":"p","type":"quantitative","title":null,"scale":{"domain":[89.06,148.46],"nice":false,"zero":false}}}},
{"data":{"name":"bolt"},"mark":{"type":"point","shape":"M0.25,-1 L-0.65,0.15 L-0.05,0.15 L-0.25,1 L0.65,-0.15 L0.05,-0.15 Z","size":100,"filled":true,"fill":"#9c27b0","opacity":1},"encoding":{
"x":{"field":"t","type":"temporal","title":null,"scale":{"type":"utc","padding":0,"domain":[{"year":2024,"month":12,"date":21,"hours":4,"minutes":20,"utc":true},{"year":2025,"month":1,"date":28,"hours":18,"minutes":48,"utc":true}]}},
"y":{"field":"p","type":"quantitative","title":null,"scale":{"domain":[89.06,148.46],"nice":false,"zero":false}}}},
{"data":{"name":"logo"},"mark":{"type":"point","shape":"M-1,-0.55 H-0.2 V0.55 H-0.55 V-0.1 H-1 Z M-0.1,-0.55 H0.2 V-0.2 H-0.1 Z M0.15,0.55 L0.55,-0.55 H1 L0.6,0.55 Z","size":324,"filled":true,"fill":"#131722","opacity":1},"encoding":{
"x":{"field":"t","type":"temporal","title":null,"scale":{"type":"utc","padding":0,"domain":[{"year":2024,"month":12,"date":21,"hours":4,"minutes":20,"utc":true},{"year":2025,"month":1,"date":28,"hours":18,"minutes":48,"utc":true}]}},
"y":{"field":"p","type":"quantitative","title":null,"scale":{"domain":[89.06,148.46],"nice":false,"zero":false}}}},
{"data":{"name":"textsLeft"},"mark":{"type":"text","align":"left","baseline":"middle"},"encoding":{
"x":{"field":"t","type":"temporal","title":null,"scale":{"type":"utc","padding":0,"domain":[{"year":2024,"month":12,"date":21,"hours":4,"minutes":20,"utc":true},{"year":2025,"month":1,"date":28,"hours":18,"minutes":48,"utc":true}]}},
"y":{"field":"p","type":"quantitative","title":null,"scale":{"domain":[89.06,148.46],"nice":false,"zero":false}},
"text":{"field":"label"},
"size":{"field":"tier","type":"ordinal","legend":null,"scale":{"type":"ordinal","domain":["header","legend","long"],"range":[12,12.3,12.9]}},
"color":{"field":"tone","type":"nominal","legend":null,"scale":{"domain":["dark","green"],"range":["#131722","#089981"]}}}},
{"data":{"name":"textsCenter"},"mark":{"type":"text","align":"center","baseline":"middle"},"encoding":{
"x":{"field":"t","type":"temporal","title":null,"scale":{"type":"utc","padding":0,"domain":[{"year":2024,"month":12,"date":21,"hours":4,"minutes":20,"utc":true},{"year":2025,"month":1,"date":28,"hours":18,"minutes":48,"utc":true}]}},
"y":{"field":"p","type":"quantitative","title":null,"scale":{"domain":[89.06,148.46],"nice":false,"zero":false}},
"text":{"field":"label"},
"size":{"field":"tier","type":"ordinal","legend":null,"scale":{"type":"ordinal","domain":["small","big","ui"],"range":[7.5,10,12]}},
"color":{"field":"tone","type":"nominal","legend":null,"scale":{"domain":["dark","green","red","grey","softred","softgreen","white","pale"],"range":["#131722","#089981","#f23645","#b8bbc4","#f77c86","#4db6a2","#ffffff","#bfe6dd"]}}}},
{"data":{"name":"textsClipped"},"mark":{"type":"text","align":"center","baseline":"middle","fontSize":7,"clip":true},"encoding":{
"x":{"field":"t","type":"temporal","title":null,"scale":{"type":"utc","padding":0,"domain":[{"year":2024,"month":12,"date":21,"hours":4,"minutes":20,"utc":true},{"year":2025,"month":1,"date":28,"hours":18,"minutes":48,"utc":true}]}},
"y":{"field":"p","type":"quantitative","title":null,"scale":{"domain":[89.06,148.46],"nice":false,"zero":false}},
"text":{"field":"label"},
"color":{"field":"tone","type":"nominal","legend":null,"scale":{"domain":["softred","softgreen"],"range":["#f77c86","#4db6a2"]}}}}
],
"resolve":{"scale":{"color":"independent","size":"independent","strokeDash":"independent","strokeWidth":"independent"}}
}
